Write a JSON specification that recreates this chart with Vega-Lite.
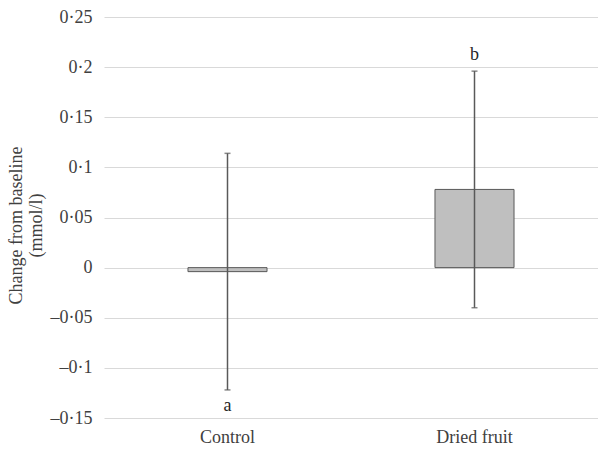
{
  "$schema": "https://vega.github.io/schema/vega-lite/v6.json",
  "width": 494,
  "height": 401,
  "autosize": {"type": "none"},
  "padding": {"left": 104, "top": 17, "right": 0, "bottom": 32},
  "background": "white",
  "config": {
    "font": "'Liberation Serif', 'Times New Roman', serif",
    "view": {"stroke": null}
  },
  "data": {
    "values": [
      {"group": "Control", "value": -0.004, "lo": -0.122, "hi": 0.114, "sig": "a"},
      {"group": "Dried fruit", "value": 0.078, "lo": -0.04, "hi": 0.196, "sig": "b"}
    ]
  },
  "encoding": {
    "x": {
      "field": "group",
      "type": "nominal",
      "sort": null,
      "scale": {"paddingInner": 0.68, "paddingOuter": 0.34},
      "axis": {
        "title": null,
        "labelAngle": 0,
        "domain": false,
        "ticks": false,
        "labelFontSize": 18,
        "labelColor": "#404040",
        "labelPadding": 10,
        "labelFont": "'Liberation Serif', 'Times New Roman', serif"
      }
    }
  },
  "layer": [
    {
      "mark": {"type": "bar", "fill": "#bfbfbf", "stroke": "#595959", "strokeWidth": 1},
      "encoding": {
        "y": {
          "field": "value",
          "type": "quantitative",
          "scale": {"domain": [-0.15, 0.25], "nice": false, "zero": false},
          "axis": {
            "values": [-0.15, -0.1, -0.05, 0, 0.05, 0.1, 0.15, 0.2, 0.25],
            "labelExpr": "(datum.value < 0 ? '–' : '') + replace(toString(abs(datum.value)), '.', '·')",
            "title": ["Change from baseline", "\u00a0\u00a0\u00a0\u00a0\u00a0\u00a0\u00a0\u00a0(mmol/l)"],
            "titleFont": "'Liberation Serif', 'Times New Roman', serif",
            "titleFontWeight": "normal",
            "titleFontSize": 18,
            "titleColor": "#404040",
            "titleLineHeight": 20,
            "titlePadding": 5,
            "titleY": 208,
            "labelFont": "'Liberation Serif', 'Times New Roman', serif",
            "labelFontSize": 18,
            "labelColor": "#404040",
            "labelPadding": 12,
            "domain": false,
            "ticks": false,
            "grid": true,
            "gridColor": "#d9d9d9",
            "gridWidth": 1
          }
        }
      }
    },
    {
      "mark": {"type": "rule", "color": "#595959", "strokeWidth": 1.5},
      "encoding": {
        "y": {"field": "lo", "type": "quantitative"},
        "y2": {"field": "hi"}
      }
    },
    {
      "mark": {"type": "tick", "color": "#595959", "size": 6, "thickness": 1.5},
      "encoding": {
        "y": {"field": "lo", "type": "quantitative"}
      }
    },
    {
      "mark": {"type": "tick", "color": "#595959", "size": 6, "thickness": 1.5},
      "encoding": {
        "y": {"field": "hi", "type": "quantitative"}
      }
    },
    {
      "transform": [{"filter": "datum.group === 'Control'"}],
      "mark": {"type": "text", "dy": 16, "baseline": "middle", "fontSize": 18, "color": "#262626", "font": "'Liberation Serif', 'Times New Roman', serif"},
      "encoding": {
        "y": {"field": "lo", "type": "quantitative"},
        "text": {"field": "sig"}
      }
    },
    {
      "transform": [{"filter": "datum.group === 'Dried fruit'"}],
      "mark": {"type": "text", "dy": -16, "baseline": "middle", "fontSize": 18, "color": "#262626", "font": "'Liberation Serif', 'Times New Roman', serif"},
      "encoding": {
        "y": {"field": "hi", "type": "quantitative"},
        "text": {"field": "sig"}
      }
    }
  ]
}
